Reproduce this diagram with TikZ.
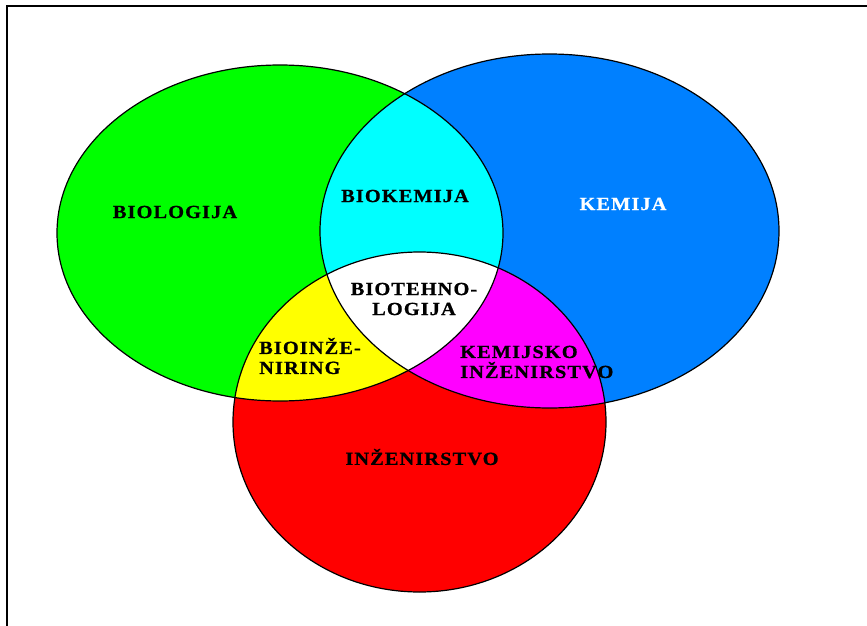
\documentclass[tikz,border=0pt]{standalone}
\usepackage{fontspec}
\setmainfont{Liberation Serif}
\newfontfamily\vennfont[FakeStretch=1.1, LetterSpace=6, FakeBold=0.8]{Liberation Serif}

\definecolor{biogreen}{RGB}{0,255,0}
\definecolor{kemblue}{RGB}{0,128,255}
\definecolor{bkcyan}{RGB}{0,255,255}
\definecolor{biyellow}{RGB}{255,255,0}
\definecolor{kimagenta}{RGB}{255,0,255}
\definecolor{inzred}{RGB}{255,0,0}

\begin{document}
\begin{tikzpicture}[x=1pt, y=-1pt,
    outline/.style={draw=black, line width=1.2pt},
    field/.style={font=\vennfont\bfseries\fontsize{18.5}{20}\selectfont, inner sep=0pt}]
  \useasboundingbox (0,0) rectangle (867,626);
  \coordinate (bio) at (280,233);
  \coordinate (kem) at (549.5,231);
  \coordinate (inz) at (419.5,422);
  \def\bioset{(bio) ellipse [x radius=223, y radius=168]}
  \def\kemset{(kem) ellipse [x radius=229.5, y radius=177]}
  \def\inzset{(inz) ellipse [x radius=186.5, y radius=170]}
  \fill[biogreen] \bioset;
  \fill[kemblue] \kemset;
  \fill[inzred] \inzset;
  \begin{scope}
    \clip \bioset;
    \fill[bkcyan] \kemset;
    \fill[biyellow] \inzset;
  \end{scope}
  \begin{scope}
    \clip \kemset;
    \fill[kimagenta] \inzset;
  \end{scope}
  \begin{scope}
    \clip \bioset;
    \clip \kemset;
    \fill[white] \inzset;
  \end{scope}
  \draw[outline] \bioset;
  \draw[outline] \kemset;
  \draw[outline] \inzset;
  \draw[line width=1.6pt] (7,626) -- (7,6) -- (867,6);
  \node[field] (biologija) at (175,212) {BIOLOGIJA};
  \node[field] (biokemija) at (405,196) {BIOKEMIJA};
  \node[field, text=white] (kemija) at (623,204) {KEMIJA};
  \node[field, align=center] (biotehnologija) at (414,299) {BIOTEHNO-\\LOGIJA};
  \node[field, align=left, anchor=west] (bioinzeniring) at (259,356) {BIOINŽE-\\NIRING};
  \node[field, align=left, anchor=west] (kemijskoinz) at (460,362) {KEMIJSKO\\INŽENIRSTVO};
  \node[field] (inzenirstvo) at (422,457) {INŽENIRSTVO};
\end{tikzpicture}
\end{document}
